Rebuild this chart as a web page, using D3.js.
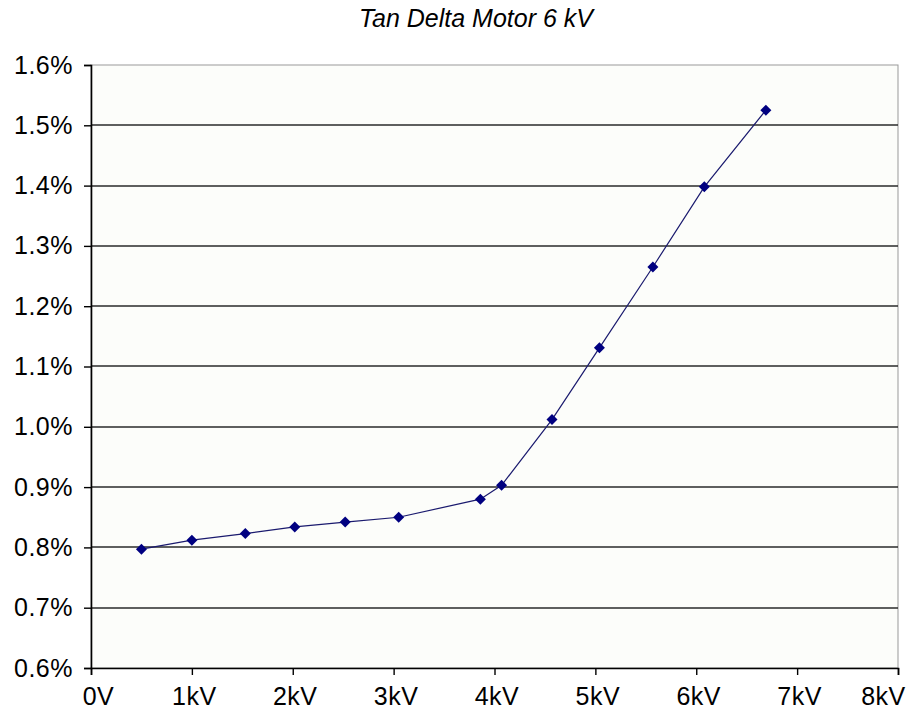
<!DOCTYPE html>
<html>
<head>
<meta charset="utf-8">
<script src="https://cdn.jsdelivr.net/npm/d3@7"></script>
<style>
  body { margin: 0; background: #fff; }
  svg { display: block; font-family: "Liberation Sans", Arial, sans-serif; }
</style>
</head>
<body>
<svg width="915" height="712"></svg>
<script>
// voltage in kV, tan delta in %
var voltage = [0.5, 1.0, 1.53, 2.02, 2.52, 3.05, 3.86, 4.07, 4.57, 5.04, 5.57, 6.08, 6.69];
var tanDelta = [0.797, 0.812, 0.823, 0.834, 0.842, 0.850, 0.880, 0.903, 1.012, 1.131, 1.265, 1.398, 1.525];
var xTicks = [0, 1, 2, 3, 4, 5, 6, 7, 8];
var xTickLabels = ["0V", "1kV", "2kV", "3kV", "4kV", "5kV", "6kV", "7kV", "8kV"];
var yTicks = [0.6, 0.7, 0.8, 0.9, 1.0, 1.1, 1.2, 1.3, 1.4, 1.5, 1.6];

var data = voltage.map(function(v, i) {
  return { x: v, y: tanDelta[i] };
});

var svg = d3.select("svg");
var plotLeft = 91, plotRight = 898, plotTop = 65, plotBottom = 668;

var x = d3.scaleLinear().domain([0, 8]).range([plotLeft, plotRight]);
var y = d3.scaleLinear().domain([0.6, 1.6]).range([plotBottom, plotTop]);

// plot area
svg.append("rect")
  .attr("x", plotLeft).attr("y", plotTop)
  .attr("width", plotRight - plotLeft).attr("height", plotBottom - plotTop)
  .attr("fill", "#fcfdfa")
  .attr("stroke", "#999").attr("stroke-width", 1);

// gridlines
svg.append("g")
  .selectAll("line")
  .data(yTicks.slice(1, -1))
  .enter()
  .append("line")
  .attr("x1", plotLeft).attr("x2", plotRight)
  .attr("y1", function(d) { return Math.round(y(d)); })
  .attr("y2", function(d) { return Math.round(y(d)); })
  .attr("stroke", "#2a2a2a")
  .attr("stroke-width", 1.7);

// y axis
var yAxis = svg.append("g")
  .attr("transform", "translate(" + plotLeft + ",0)")
  .call(d3.axisLeft(y).tickValues(yTicks).tickSize(7).tickPadding(11)
    .tickFormat(function(d) { return d3.format(".1f")(d) + "%"; }));

// x axis
var xAxis = svg.append("g")
  .attr("transform", "translate(0," + plotBottom + ")")
  .call(d3.axisBottom(x).tickValues(xTicks).tickSize(7).tickPadding(12)
    .tickFormat(function(d, i) { return xTickLabels[i]; }));

[yAxis, xAxis].forEach(function(ax) {
  ax.select(".domain").attr("stroke", "#000").attr("stroke-width", 1.6);
  ax.selectAll(".tick line").attr("stroke", "#000").attr("stroke-width", 1.4);
  ax.selectAll("text")
    .attr("fill", "#000")
    .style("font-size", "25px")
    .style("letter-spacing", "0.5px")
    .style("font-family", "'Liberation Sans', Arial, sans-serif");
});

// edge labels pulled inward like the original
xAxis.selectAll(".tick text")
  .attr("dx", function(d) {
    if (d === 0) return 7;
    if (d === 8) return -15;
    return 2;
  });

// series line
var line = d3.line()
  .x(function(d) { return x(d.x); })
  .y(function(d) { return y(d.y); });

svg.append("path")
  .datum(data)
  .attr("d", line)
  .attr("fill", "none")
  .attr("stroke", "#1a1a6e")
  .attr("stroke-width", 1.2);

// diamond markers
svg.append("g")
  .selectAll("path")
  .data(data)
  .enter()
  .append("path")
  .attr("transform", function(d) {
    return "translate(" + x(d.x) + "," + y(d.y) + ")";
  })
  .attr("d", "M0,-5.5L5.5,0L0,5.5L-5.5,0Z")
  .attr("fill", "#000080");

// title
svg.append("text")
  .attr("x", 476)
  .attr("y", 27)
  .attr("text-anchor", "middle")
  .style("font-size", "25px")
  .style("font-style", "italic")
  .text("Tan Delta Motor 6 kV");
</script>
</body>
</html>
